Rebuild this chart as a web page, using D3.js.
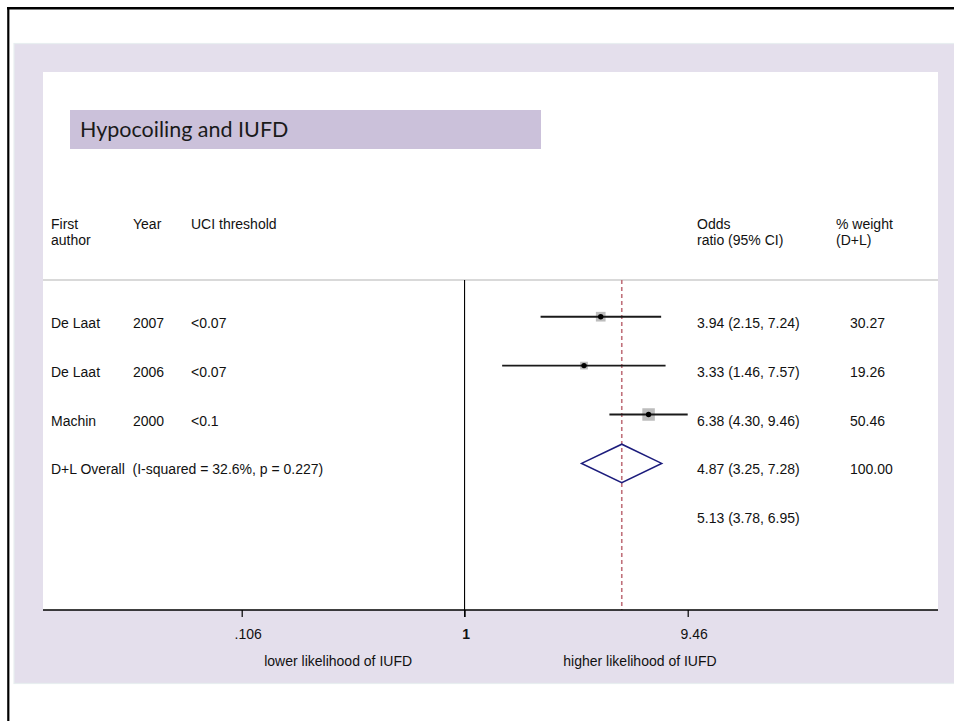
<!DOCTYPE html>
<html>
<head>
<meta charset="utf-8">
<script src="https://cdn.jsdelivr.net/npm/d3@7"></script>
<style>
  html, body { margin: 0; padding: 0; background: #ffffff; }
  svg { display: block; }
  text { font-family: "Liberation Sans", Arial, sans-serif; fill: #111; white-space: pre; }
</style>
</head>
<body>
<svg id="chart" width="954" height="721"></svg>
<script>
// ---- Study data ----
const authors    = ["De Laat", "De Laat", "Machin"];
const years      = ["2007", "2006", "2000"];
const thresholds = ["<0.07", "<0.07", "<0.1"];
const oddsRatios = [3.94, 3.33, 6.38];
const ciLower    = [2.15, 1.46, 4.30];
const ciUpper    = [7.24, 7.57, 9.46];
const weights    = [30.27, 19.26, 50.46];

// ---- Pooled (D+L random effects) ----
const pooledLabel  = "D+L Overall  (I-squared = 32.6%, p = 0.227)";
const pooledOR     = [4.87];
const pooledLower  = [3.25];
const pooledUpper  = [7.28];
const pooledWeight = [100.00];

// ---- Additional estimate row ----
const extraOR    = [5.13];
const extraLower = [3.78];
const extraUpper = [6.95];

// ---- Axis ----
const tickValues = [0.106, 1, 9.46];
const tickLabels = [".106", "1", "9.46"];
const sideLabels = ["lower likelihood of IUFD", "higher likelihood of IUFD"];
const sideLabelAt = [0.28, 5.85];

const title = "Hypocoiling and IUFD";

// ---- Layout ----
const svg = d3.select("#chart");
const panel = { left: 43, right: 938, top: 72, bottom: 610 };
const headerLineY = 280;

const x = d3.scaleLog().domain([0.106, 9.46]).range([241.7, 687.7]);
const rowY = d3.scaleLinear().domain([0, 4]).range([316.7, 512.3]);
const squareSide = w => 1.76 * Math.sqrt(w);
const fmt2 = d3.format(".2f");
const ciText = (o, l, u) => `${fmt2(o)} (${fmt2(l)}, ${fmt2(u)})`;

// frame lines
svg.append("line").attr("x1", 7).attr("x2", 954).attr("y1", 8.3).attr("y2", 8.3)
  .attr("stroke", "#000").attr("stroke-width", 2.6);
svg.append("line").attr("x1", 8.3).attr("x2", 8.3).attr("y1", 7).attr("y2", 721)
  .attr("stroke", "#000").attr("stroke-width", 2.2);

// lavender graph region
svg.append("rect").attr("x", 14).attr("y", 43.5).attr("width", 945).attr("height", 640)
  .attr("fill", "#e4dfec").attr("stroke", "#e8eef0").attr("stroke-width", 1.2);

// white plot region
svg.append("rect").attr("x", panel.left).attr("y", panel.top)
  .attr("width", panel.right - panel.left).attr("height", panel.bottom - panel.top)
  .attr("fill", "#ffffff");

// title box
svg.append("rect").attr("x", 70).attr("y", 110).attr("width", 471).attr("height", 39)
  .attr("fill", "#cbc1da");
svg.append("text").attr("x", 80).attr("y", 136.5)
  .style("font-family", "Lato, 'Open Sans', sans-serif").style("font-size", "21.5px")
  .style("fill", "#1a1a1a").text(title);

// column headers
const fs = "14px";
const headers = [
  { x: 51,  lines: ["First", "author"] },
  { x: 133, lines: ["Year"] },
  { x: 191, lines: ["UCI threshold"] },
  { x: 697, lines: ["Odds", "ratio (95% CI)"] },
  { x: 836, lines: ["% weight", "(D+L)"] }
];
headers.forEach(h => {
  h.lines.forEach((ln, i) => {
    svg.append("text").attr("x", h.x).attr("y", 229.3 + i * 15.7)
      .style("font-size", fs).text(ln);
  });
});

// header separator
svg.append("line").attr("x1", panel.left).attr("x2", panel.right)
  .attr("y1", headerLineY).attr("y2", headerLineY)
  .attr("stroke", "#b4b4b4").attr("stroke-width", 1.2);

// null line at OR = 1
svg.append("line").attr("x1", x(1)).attr("x2", x(1))
  .attr("y1", headerLineY).attr("y2", panel.bottom + 7)
  .attr("stroke", "#000").attr("stroke-width", 1.1);

// pooled estimate reference line
svg.append("line").attr("x1", x(pooledOR[0])).attr("x2", x(pooledOR[0]))
  .attr("y1", headerLineY).attr("y2", panel.bottom)
  .attr("stroke", "#c0707a").attr("stroke-width", 1.6)
  .attr("stroke-dasharray", "4,3");

// study rows
const studies = authors.map((a, i) => ({
  author: a, year: years[i], thr: thresholds[i],
  or: oddsRatios[i], lo: ciLower[i], hi: ciUpper[i], w: weights[i], row: i
}));

const g = svg.append("g");
const rows = g.selectAll("g.study").data(studies).join("g").attr("class", "study");

rows.append("rect")
  .attr("x", d => x(d.or) - squareSide(d.w) / 2)
  .attr("y", d => rowY(d.row) - squareSide(d.w) / 2)
  .attr("width", d => squareSide(d.w)).attr("height", d => squareSide(d.w))
  .attr("fill", "#bdbdbd");

rows.append("line")
  .attr("x1", d => x(d.lo)).attr("x2", d => x(d.hi))
  .attr("y1", d => rowY(d.row)).attr("y2", d => rowY(d.row))
  .attr("stroke", "#1a1a1a").attr("stroke-width", 1.9);

rows.append("circle")
  .attr("cx", d => x(d.or)).attr("cy", d => rowY(d.row))
  .attr("r", 2.7)
  .attr("fill", "#000");

const textRow = (xPos, txt, row) =>
  svg.append("text").attr("x", xPos).attr("y", rowY(row) + 11)
    .style("font-size", fs).text(txt);

studies.forEach(d => {
  textRow(51, d.author, d.row);
  textRow(133, d.year, d.row);
  textRow(191, d.thr, d.row);
  textRow(697, ciText(d.or, d.lo, d.hi), d.row);
  textRow(850, fmt2(d.w), d.row);
});

// pooled diamond
const py = rowY(3);
const dh = 19.2;
svg.append("path")
  .attr("d", d3.line()([
    [x(pooledLower[0]), py], [x(pooledOR[0]), py - dh],
    [x(pooledUpper[0]), py], [x(pooledOR[0]), py + dh]
  ]) + "Z")
  .attr("fill", "none").attr("stroke", "#1c1c7c").attr("stroke-width", 1.5);

textRow(51, pooledLabel, 3);
textRow(697, ciText(pooledOR[0], pooledLower[0], pooledUpper[0]), 3);
textRow(850, fmt2(pooledWeight[0]), 3);

textRow(697, ciText(extraOR[0], extraLower[0], extraUpper[0]), 4);

// x axis
svg.append("line").attr("x1", panel.left).attr("x2", panel.right)
  .attr("y1", panel.bottom).attr("y2", panel.bottom)
  .attr("stroke", "#000").attr("stroke-width", 1.5);

const axis = d3.axisBottom(x).tickValues(tickValues)
  .tickSize(7).tickPadding(12)
  .tickFormat((d, i) => tickLabels[i]);
const ax = svg.append("g").attr("transform", `translate(0,${panel.bottom})`).call(axis);
ax.select(".domain").remove();
ax.selectAll(".tick line").attr("stroke", "#000").attr("stroke-width", 1.2);
ax.selectAll(".tick text")
  .style("font-size", fs).style("font-family", "'Liberation Sans', Arial, sans-serif")
  .attr("fill", "#111")
  .attr("dx", (d, i) => tickLabels[i].length > 1 ? 6 : 1)
  .style("font-weight", (d, i) => tickLabels[i] === "1" ? "bold" : "normal");

// direction labels
sideLabels.forEach((t, i) => {
  svg.append("text").attr("x", x(sideLabelAt[i])).attr("y", 665.5)
    .attr("text-anchor", "middle").style("font-size", fs).text(t);
});
</script>
</body>
</html>
